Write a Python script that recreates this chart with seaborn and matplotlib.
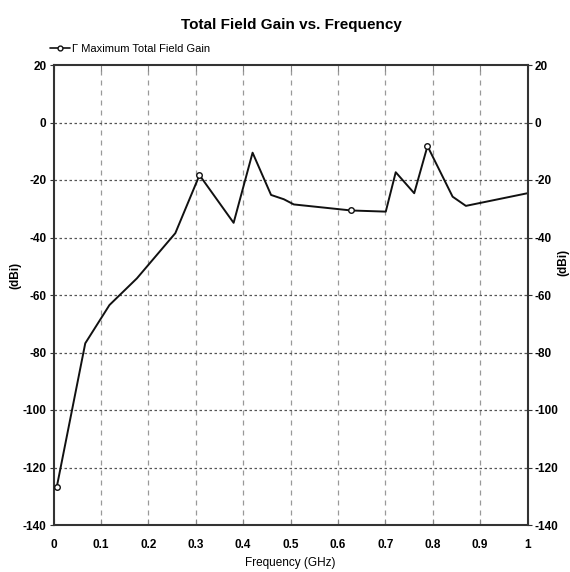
import matplotlib
matplotlib.use("Agg")
import matplotlib.pyplot as plt
import seaborn as sns
import pandas as pd
from matplotlib.lines import Line2D

freq_ghz = [0.007, 0.067, 0.118, 0.176, 0.257, 0.308, 0.380, 0.420, 0.459,
            0.486, 0.507, 0.628, 0.701, 0.722, 0.761, 0.789, 0.842, 0.870, 1.0]
gain_dbi = [-126.7, -76.8, -63.5, -54.2, -38.5, -18.3, -34.9, -10.5, -25.2,
            -26.7, -28.5, -30.6, -31.0, -17.3, -24.6, -8.2, -25.8, -29.0, -24.6]
marker_idx = [0, 5, 11, 15]

x_ticks = [0, 0.1, 0.2, 0.3, 0.4, 0.5, 0.6, 0.7, 0.8, 0.9, 1]
x_tick_labels = ["0", "0.1", "0.2", "0.3", "0.4", "0.5", "0.6", "0.7", "0.8", "0.9", "1"]
y_ticks = [20, 0, -20, -40, -60, -80, -100, -120, -140]

title = "Total Field Gain vs. Frequency"
series_name = "Maximum Total Field Gain"
x_label = "Frequency (GHz)"
y_label = "(dBi)"

sns.set_style("white")
plt.rcParams['font.family'] = ['Liberation Sans', 'DejaVu Sans']
plt.rcParams['text.color'] = 'black'
plt.rcParams['xtick.labelcolor'] = 'black'
plt.rcParams['ytick.labelcolor'] = 'black'

df = pd.DataFrame({"freq": freq_ghz, "gain": gain_dbi})
mk = df.iloc[marker_idx]

W, H = 570, 572
fig = plt.figure(figsize=(W / 100, H / 100), dpi=100)
ax = fig.add_axes([53.5 / W, 1 - 525 / H, (527.5 - 53.5) / W, (525 - 65) / H])

sns.lineplot(data=df, x="freq", y="gain", ax=ax, color="#111111", linewidth=1.4)
sns.scatterplot(data=mk, x="freq", y="gain", ax=ax, marker="o", s=16,
                facecolor="white", edgecolor="#111111", linewidth=1.0, zorder=5)

ax.set_xlim(0, 1)
ax.set_ylim(-140, 20)
ax.set_xticks(x_ticks)
ax.set_xticklabels(x_tick_labels)
ax.set_yticks(y_ticks)
ax.set_yticklabels([str(v) for v in y_ticks])
ax.set_xlabel("")
ax.set_ylabel("")

# grids
for xv in x_ticks[1:-1]:
    ax.axvline(xv, color="#999999", linestyle=(0, (4, 4)), linewidth=0.9, zorder=0)
for yv in y_ticks[1:-1]:
    ax.axhline(yv, color="#555555", linestyle=(0, (2, 2)), linewidth=0.9, zorder=0)

for sp in ax.spines.values():
    sp.set_color("#333333")
    sp.set_linewidth(1.5)

ax.tick_params(axis="x", direction="in", length=4, width=0.8, color="#888888",
               top=True, bottom=True, labelsize=8.5, pad=10)
ax.tick_params(axis="y", direction="out", length=3, width=0.8, color="#333333",
               left=True, right=True, labelleft=True, labelright=True,
               labelsize=8.5, pad=2)
for t in ax.xaxis.get_major_ticks() + ax.yaxis.get_major_ticks():
    t.label1.set_fontweight("bold")
    t.label2.set_fontweight("bold")

fig.text(290 / W, 1 - 563 / H, x_label, ha="center", va="center", fontsize=8.5)
fig.text(15 / W, 1 - 275 / H, y_label, ha="center", va="center", fontsize=8.5,
         fontweight="bold", rotation=90)
fig.text(563 / W, 1 - 262 / H, y_label, ha="center", va="center", fontsize=8.5,
         fontweight="bold", rotation=90)

fig.text(291 / W, 1 - 25 / H, title, ha="center", va="center", fontsize=11,
         fontweight="bold")

handle = Line2D([], [], color="#111111", linewidth=1.2, marker="o", markersize=3.5,
                markerfacecolor="white", markeredgecolor="#111111")
fig.legend([handle], ["\u0393 " + series_name], loc="center left",
           bbox_to_anchor=(50 / W, 1 - 49 / H), frameon=False, fontsize=8,
           handlelength=1.8, handletextpad=0.2, borderpad=0, borderaxespad=0)

fig.savefig("out.png", dpi=100)
